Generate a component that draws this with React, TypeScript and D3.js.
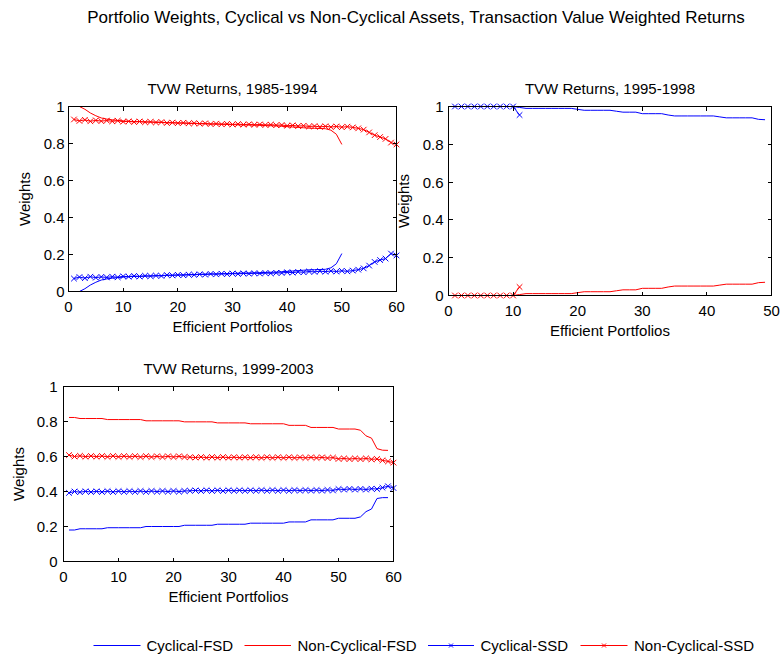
import React from "react";
import * as d3 from "d3";

// ---- data: portfolio weights along the efficient frontier ----
const yTicks = [0, 0.2, 0.4, 0.6, 0.8, 1];
const xTicks60 = [0, 10, 20, 30, 40, 50, 60];
const xTicks50 = [0, 10, 20, 30, 40, 50];

const panelTitles = ["TVW Returns, 1985-1994", "TVW Returns, 1995-1998", "TVW Returns, 1999-2003"];
const legendLabels = ["Cyclical-FSD", "Non-Cyclical-FSD", "Cyclical-SSD", "Non-Cyclical-SSD"];

// 1985-1994
const cycFsd8594 = [
  0.0, 0.0, 0.015, 0.035, 0.05, 0.062, 0.068, 0.072, 0.075, 0.078,
  0.08, 0.081, 0.082, 0.083, 0.084, 0.085, 0.086, 0.087, 0.088, 0.089,
  0.09, 0.091, 0.092, 0.093, 0.094, 0.095, 0.095, 0.096, 0.097, 0.098,
  0.099, 0.1, 0.1, 0.101, 0.102, 0.103, 0.104, 0.105, 0.107, 0.109,
  0.111, 0.113, 0.115, 0.117, 0.118, 0.119, 0.12, 0.128, 0.15, 0.205,
];
const nonFsd8594 = [
  1.0, 1.0, 0.985, 0.965, 0.95, 0.938, 0.932, 0.928, 0.925, 0.922,
  0.92, 0.919, 0.918, 0.917, 0.916, 0.915, 0.914, 0.913, 0.912, 0.911,
  0.91, 0.909, 0.908, 0.907, 0.906, 0.905, 0.905, 0.904, 0.903, 0.902,
  0.901, 0.9, 0.9, 0.899, 0.898, 0.897, 0.896, 0.895, 0.893, 0.891,
  0.889, 0.887, 0.885, 0.883, 0.882, 0.881, 0.88, 0.872, 0.85, 0.795,
];
const cycSsd8594 = [
  0.07, 0.078, 0.072, 0.08, 0.075, 0.079, 0.076, 0.08, 0.077, 0.082,
  0.08, 0.084, 0.081, 0.085, 0.083, 0.086, 0.084, 0.089, 0.087, 0.09,
  0.088, 0.091, 0.09, 0.093, 0.091, 0.095, 0.093, 0.096, 0.094, 0.097,
  0.095, 0.098, 0.096, 0.099, 0.097, 0.1, 0.098, 0.101, 0.1, 0.104,
  0.102, 0.106, 0.104, 0.108, 0.106, 0.11, 0.107, 0.111, 0.108, 0.112,
  0.109, 0.113, 0.118, 0.125, 0.14, 0.16, 0.17, 0.178, 0.205, 0.195,
];
const nonSsd8594 = [
  0.93, 0.922, 0.928, 0.92, 0.925, 0.921, 0.924, 0.92, 0.923, 0.918,
  0.92, 0.916, 0.919, 0.915, 0.917, 0.914, 0.916, 0.911, 0.913, 0.91,
  0.912, 0.909, 0.91, 0.907, 0.909, 0.905, 0.907, 0.904, 0.906, 0.903,
  0.905, 0.902, 0.904, 0.901, 0.903, 0.9, 0.902, 0.899, 0.9, 0.896,
  0.898, 0.894, 0.896, 0.892, 0.894, 0.89, 0.893, 0.889, 0.892, 0.888,
  0.891, 0.887, 0.882, 0.875, 0.86, 0.845, 0.835, 0.825, 0.805, 0.795,
];

// 1995-1998
const cycFsd9598 = [
  1.0, 1.0, 1.0, 1.0, 1.0, 1.0, 1.0, 1.0, 1.0, 1.0,
  0.995, 0.99, 0.99, 0.99, 0.99, 0.99, 0.99, 0.99, 0.99, 0.985,
  0.98, 0.98, 0.98, 0.98, 0.98, 0.975, 0.97, 0.97, 0.97, 0.962,
  0.962, 0.962, 0.962, 0.955, 0.95, 0.95, 0.95, 0.95, 0.95, 0.95,
  0.95, 0.945, 0.94, 0.94, 0.94, 0.94, 0.94, 0.932, 0.93,
];
const nonFsd9598 = [
  0.0, 0.0, 0.0, 0.0, 0.0, 0.0, 0.0, 0.0, 0.0, 0.0,
  0.005, 0.01, 0.01, 0.01, 0.01, 0.01, 0.01, 0.01, 0.01, 0.015,
  0.02, 0.02, 0.02, 0.02, 0.02, 0.025, 0.03, 0.03, 0.03, 0.038,
  0.038, 0.038, 0.038, 0.045, 0.05, 0.05, 0.05, 0.05, 0.05, 0.05,
  0.05, 0.055, 0.06, 0.06, 0.06, 0.06, 0.06, 0.068, 0.07,
];
const cycSsd9598 = [1.0, 1.0, 1.0, 1.0, 1.0, 1.0, 1.0, 1.0, 1.0, 1.0, 0.955];
const nonSsd9598 = [0.0, 0.0, 0.0, 0.0, 0.0, 0.0, 0.0, 0.0, 0.0, 0.0, 0.045];

// 1999-2003
const cycFsd9903 = [
  0.18, 0.18, 0.187, 0.187, 0.187, 0.187, 0.187, 0.193, 0.193, 0.193,
  0.193, 0.193, 0.193, 0.193, 0.2, 0.2, 0.2, 0.2, 0.2, 0.2,
  0.2, 0.207, 0.207, 0.207, 0.207, 0.207, 0.207, 0.213, 0.213, 0.213,
  0.213, 0.213, 0.213, 0.219, 0.219, 0.219, 0.219, 0.219, 0.219, 0.219,
  0.226, 0.226, 0.226, 0.226, 0.238, 0.238, 0.238, 0.238, 0.238, 0.247,
  0.247, 0.247, 0.247, 0.255, 0.285, 0.3, 0.36, 0.365, 0.365,
];
const nonFsd9903 = [
  0.823, 0.823, 0.817, 0.817, 0.817, 0.817, 0.817, 0.811, 0.811, 0.811,
  0.811, 0.811, 0.811, 0.811, 0.804, 0.804, 0.804, 0.804, 0.804, 0.804,
  0.804, 0.798, 0.798, 0.798, 0.798, 0.798, 0.798, 0.792, 0.792, 0.792,
  0.792, 0.792, 0.792, 0.787, 0.787, 0.787, 0.787, 0.787, 0.787, 0.787,
  0.778, 0.778, 0.778, 0.778, 0.766, 0.766, 0.766, 0.766, 0.766, 0.757,
  0.757, 0.757, 0.757, 0.75, 0.718, 0.705, 0.645, 0.636, 0.635,
];
const cycSsd9903 = [
  0.392, 0.4, 0.396, 0.401, 0.397, 0.401, 0.397, 0.402, 0.397, 0.402,
  0.398, 0.402, 0.398, 0.403, 0.398, 0.403, 0.399, 0.403, 0.399, 0.403,
  0.399, 0.403, 0.404, 0.406, 0.403, 0.407, 0.403, 0.407, 0.403, 0.407,
  0.404, 0.407, 0.404, 0.407, 0.404, 0.408, 0.404, 0.408, 0.404, 0.408,
  0.404, 0.408, 0.405, 0.408, 0.405, 0.408, 0.405, 0.409, 0.406, 0.414,
  0.411, 0.415, 0.411, 0.415, 0.411, 0.416, 0.414, 0.422, 0.43, 0.42,
];
const nonSsd9903 = [
  0.608, 0.6, 0.604, 0.599, 0.603, 0.599, 0.603, 0.598, 0.603, 0.598,
  0.602, 0.598, 0.602, 0.597, 0.602, 0.597, 0.601, 0.597, 0.601, 0.597,
  0.601, 0.597, 0.596, 0.594, 0.597, 0.593, 0.597, 0.593, 0.597, 0.593,
  0.596, 0.593, 0.596, 0.593, 0.596, 0.592, 0.596, 0.592, 0.596, 0.592,
  0.596, 0.592, 0.595, 0.592, 0.595, 0.592, 0.595, 0.591, 0.594, 0.586,
  0.589, 0.585, 0.589, 0.585, 0.589, 0.584, 0.586, 0.578, 0.572, 0.565,
];

// ---- styling ----
const FONT = "'Liberation Sans', Arial, Helvetica, sans-serif";
const BLUE = "#0000ff";
const RED = "#ff0000";
const W = 782;
const H = 657;

type Series = { values: number[]; color: string; marker: boolean };

type PanelSpec = {
  title: string;
  left: number;
  right: number;
  top: number;
  bottom: number;
  xMax: number;
  xTicks: number[];
  tickLabelGap: number;
  ylabelX: number;
  series: Series[];
};

const panels: PanelSpec[] = [
  {
    title: panelTitles[0],
    left: 68.5, right: 396.5, top: 106.5, bottom: 291.5,
    xMax: 60, xTicks: xTicks60, tickLabelGap: 4, ylabelX: 30,
    series: [
      { values: cycFsd8594, color: BLUE, marker: false },
      { values: nonFsd8594, color: RED, marker: false },
      { values: cycSsd8594, color: BLUE, marker: true },
      { values: nonSsd8594, color: RED, marker: true },
    ],
  },
  {
    title: panelTitles[1],
    left: 448.5, right: 771.5, top: 106.5, bottom: 295.5,
    xMax: 50, xTicks: xTicks50, tickLabelGap: 5, ylabelX: 409,
    series: [
      { values: cycFsd9598, color: BLUE, marker: false },
      { values: nonFsd9598, color: RED, marker: false },
      { values: cycSsd9598, color: BLUE, marker: true },
      { values: nonSsd9598, color: RED, marker: true },
    ],
  },
  {
    title: panelTitles[2],
    left: 63.5, right: 393.5, top: 386.5, bottom: 561.5,
    xMax: 60, xTicks: xTicks60, tickLabelGap: 6, ylabelX: 24,
    series: [
      { values: cycFsd9903, color: BLUE, marker: false },
      { values: nonFsd9903, color: RED, marker: false },
      { values: cycSsd9903, color: BLUE, marker: true },
      { values: nonSsd9903, color: RED, marker: true },
    ],
  },
];

const crossPath = (cx: number, cy: number, r: number) =>
  `M${cx - r},${cy - r}L${cx + r},${cy + r}M${cx - r},${cy + r}L${cx + r},${cy - r}`;

function Panel({ p }: { p: PanelSpec }) {
  const x = d3.scaleLinear().domain([0, p.xMax]).range([p.left, p.right]);
  const y = d3.scaleLinear().domain([0, 1]).range([p.bottom, p.top]);
  const tl = 4;
  const line = d3
    .line<number>()
    .x((_, i) => x(i + 1))
    .y((v) => y(v));
  const cx = (p.left + p.right) / 2;
  const cy = (p.top + p.bottom) / 2;

  return (
    <g>
      {p.series.map((s, si) => (
        <g key={si}>
          <path d={line(s.values) || ""} fill="none" stroke={s.color} strokeWidth={1} />
          {s.marker &&
            s.values.map((v, i) => (
              <path key={i} d={crossPath(x(i + 1), y(v), 2.8)} stroke={s.color} strokeWidth={1} fill="none" />
            ))}
        </g>
      ))}
      {/* axes box */}
      <rect
        x={p.left}
        y={p.top}
        width={p.right - p.left}
        height={p.bottom - p.top}
        fill="none"
        stroke="#000"
        strokeWidth={1}
        shapeRendering="crispEdges"
      />
      {/* inward ticks on all four sides */}
      {p.xTicks.map((t) => (
        <g key={"x" + t}>
          <line x1={x(t)} x2={x(t)} y1={p.bottom} y2={p.bottom - tl} stroke="#000" shapeRendering="crispEdges" />
          <line x1={x(t)} x2={x(t)} y1={p.top} y2={p.top + tl} stroke="#000" shapeRendering="crispEdges" />
          <text x={x(t)} y={p.bottom + 20} textAnchor="middle" fontSize={15} fontFamily={FONT} fill="#000">
            {t}
          </text>
        </g>
      ))}
      {yTicks.map((t) => (
        <g key={"y" + t}>
          <line x1={p.left} x2={p.left + tl} y1={y(t)} y2={y(t)} stroke="#000" shapeRendering="crispEdges" />
          <line x1={p.right} x2={p.right - tl} y1={y(t)} y2={y(t)} stroke="#000" shapeRendering="crispEdges" />
          <text
            x={p.left - p.tickLabelGap}
            y={y(t)}
            dy="0.36em"
            textAnchor="end"
            fontSize={15}
            fontFamily={FONT}
            fill="#000"
          >
            {String(t)}
          </text>
        </g>
      ))}
      <text x={cx} y={p.top - 13} textAnchor="middle" fontSize={15} fontFamily={FONT} fill="#000">
        {p.title}
      </text>
      <text x={cx} y={p.bottom + 40} textAnchor="middle" fontSize={15} fontFamily={FONT} fill="#000">
        Efficient Portfolios
      </text>
      <text
        transform={`translate(${p.ylabelX},${cy}) rotate(-90)`}
        textAnchor="middle"
        fontSize={15}
        fontFamily={FONT}
        fill="#000"
      >
        Weights
      </text>
    </g>
  );
}

const legendItems = [
  { label: legendLabels[0], color: BLUE, marker: false, x0: 93.5, x1: 140.5, tx: 146.5 },
  { label: legendLabels[1], color: RED, marker: false, x0: 244.5, x1: 291, tx: 297.5 },
  { label: legendLabels[2], color: BLUE, marker: true, x0: 428, x1: 474, tx: 480.5 },
  { label: legendLabels[3], color: RED, marker: true, x0: 580.5, x1: 627.5, tx: 634 },
];

export default function App() {
  const ly = 645.5;
  return (
    <svg
      width={W}
      height={H}
      viewBox={`0 0 ${W} ${H}`}
      style={{ position: "absolute", left: 0, top: 0, background: "#fff" }}
    >
      <rect width={W} height={H} fill="#fff" />
      <text x={416} y={23} textAnchor="middle" fontSize={17} fontFamily={FONT} fill="#000">
        Portfolio Weights, Cyclical vs Non-Cyclical Assets, Transaction Value Weighted Returns
      </text>
      {panels.map((p, i) => (
        <Panel key={i} p={p} />
      ))}
      {legendItems.map((it, i) => (
        <g key={i}>
          <line x1={it.x0} x2={it.x1} y1={ly} y2={ly} stroke={it.color} strokeWidth={1} />
          {it.marker && (
            <path d={crossPath((it.x0 + it.x1) / 2, ly, 2)} stroke={it.color} strokeWidth={1} fill="none" />
          )}
          <text x={it.tx} y={ly} dy="0.36em" fontSize={15} fontFamily={FONT} fill="#000">
            {it.label}
          </text>
        </g>
      ))}
    </svg>
  );
}
